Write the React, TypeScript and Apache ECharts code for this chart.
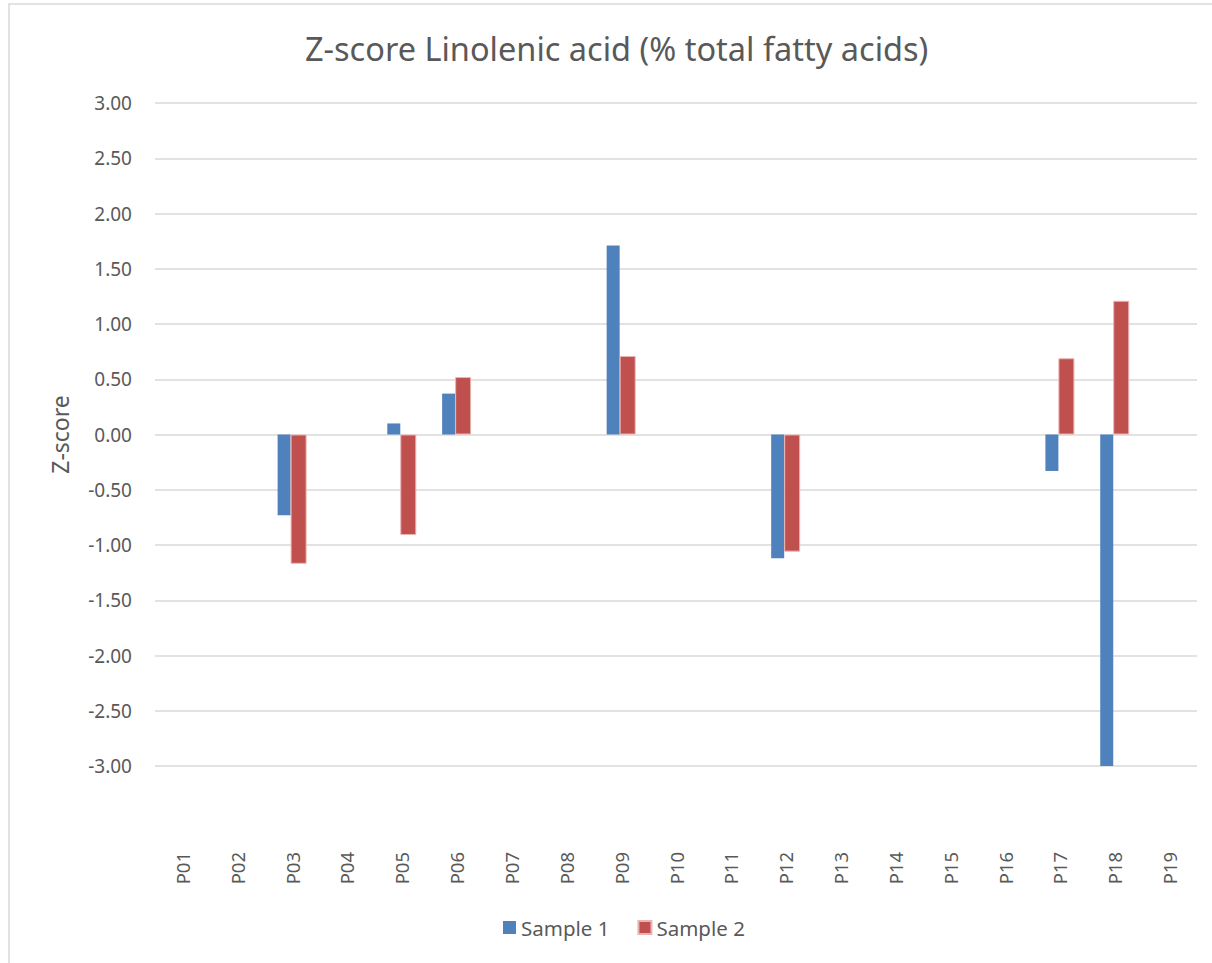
import React, { useEffect, useRef } from "react";
import * as echarts from "echarts";

const categories = ["P01","P02","P03","P04","P05","P06","P07","P08","P09","P10","P11","P12","P13","P14","P15","P16","P17","P18","P19"];
const sample1 = [null, null, -0.73, null, 0.1, 0.37, null, null, 1.71, null, null, -1.12, null, null, null, null, -0.33, -3.01, null];
const sample2 = [null, null, -1.17, null, -0.91, 0.52, null, null, 0.71, null, null, -1.06, null, null, null, null, 0.69, 1.21, null];
const seriesNames = ["Sample 1", "Sample 2"];
const titleText = "Z-score Linolenic acid (% total fatty acids)";
const yName = "Z-score";

const FONT = "'Noto Sans', sans-serif";
const TXT = "#595959";

export default function App() {
  const ref = useRef<HTMLDivElement>(null);
  useEffect(() => {
    if (!ref.current) return;
    const chart = echarts.init(ref.current, null, { renderer: "svg" });
    chart.setOption({
      animation: false,
      backgroundColor: "#ffffff",
      title: {
        text: titleText,
        left: 300,
        top: 27,
        textStyle: { fontFamily: FONT, fontSize: 32.5, fontWeight: "normal", color: TXT },
      },
      graphic: [
        {
          type: "rect",
          shape: { x: 9, y: 4, width: 1300, height: 1000 },
          style: { fill: "none", stroke: "#d9d9d9", lineWidth: 1.5 },
          silent: true,
        },
      ],
      legend: {
        data: seriesNames,
        left: 503,
        top: 917,
        padding: 0,
        itemWidth: 13,
        itemHeight: 13,
        itemGap: 28,
        icon: "rect",
        textStyle: { fontFamily: FONT, fontSize: 20.5, color: TXT },
      },
      grid: { left: 155, right: 15, top: 103, bottom: 197, containLabel: false },
      xAxis: {
        type: "category",
        data: categories,
        axisLine: { show: false },
        axisTick: { show: false },
        axisLabel: { rotate: 90, margin: 86, fontFamily: FONT, fontSize: 18.5, color: TXT, interval: 0 },
      },
      yAxis: {
        type: "value",
        min: -3,
        max: 3,
        interval: 0.5,
        name: yName,
        nameLocation: "middle",
        nameGap: 84,
        nameTextStyle: { fontFamily: FONT, fontSize: 23, color: TXT },
        axisLine: { show: false },
        axisTick: { show: false },
        splitLine: { lineStyle: { color: "#d9d9d9", width: 1.5 } },
        axisLabel: {
          margin: 23,
          fontFamily: FONT,
          fontSize: 19,
          color: TXT,
          formatter: (v: number) => v.toFixed(2),
        },
      },
      series: [
        {
          name: seriesNames[0],
          type: "bar",
          data: sample1,
          barWidth: 13,
          barGap: "0%",
          itemStyle: { color: "#4F81BD" },
        },
        {
          name: seriesNames[1],
          type: "bar",
          data: sample2,
          barWidth: 16,
          barGap: "0%",
          itemStyle: { color: "#C0504D", borderColor: "#e8b4b3", borderWidth: 1 },
        },
      ],
    });
    return () => chart.dispose();
  }, []);
  return (
    <div
      ref={ref}
      style={{ position: "absolute", left: 0, top: 0, width: 1212, height: 963 }}
    />
  );
}
